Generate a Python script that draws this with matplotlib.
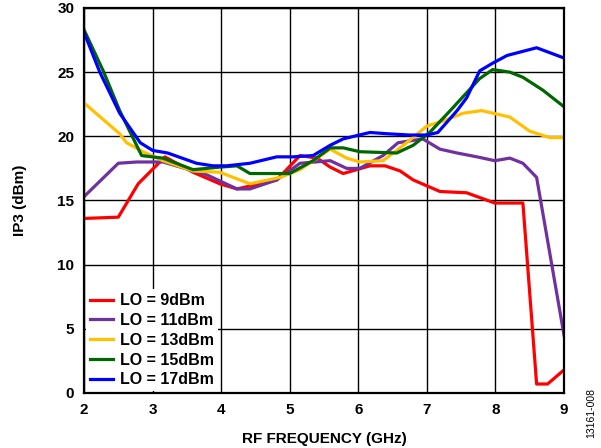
import matplotlib
matplotlib.use("Agg")
import matplotlib.pyplot as plt

plt.rcParams['font.family'] = ['Liberation Sans', 'DejaVu Sans']

# RF frequency (GHz) and IP3 (dBm), one array pair per LO level
freq_9 = [2.0, 2.5, 2.79, 3.18, 3.59, 3.98, 4.23, 4.81, 5.15, 5.4, 5.59, 5.78, 6.17, 6.39, 6.61, 6.8, 7.19, 7.58, 7.99, 8.4, 8.6, 8.76, 9.0]
ip3_9 = [13.6, 13.7, 16.3, 18.4, 17.2, 16.3, 15.9, 16.6, 18.5, 18.3, 17.6, 17.1, 17.7, 17.7, 17.3, 16.6, 15.7, 15.6, 14.8, 14.8, 0.7, 0.7, 1.8]

freq_11 = [2.0, 2.5, 2.77, 3.15, 3.79, 4.23, 4.42, 4.81, 5.15, 5.59, 5.83, 6.02, 6.36, 6.58, 6.94, 7.19, 7.44, 7.73, 7.99, 8.21, 8.4, 8.6, 9.0]
ip3_11 = [15.3, 17.9, 18.0, 18.0, 17.0, 15.9, 15.9, 16.6, 17.9, 18.1, 17.5, 17.5, 18.5, 19.5, 19.8, 19.0, 18.7, 18.4, 18.1, 18.3, 17.9, 16.8, 4.5]

freq_13 = [2.0, 2.52, 2.62, 2.86, 3.15, 3.59, 3.98, 4.42, 4.86, 5.15, 5.59, 5.83, 6.02, 6.36, 6.56, 6.75, 7.0, 7.24, 7.53, 7.8, 8.21, 8.5, 8.79, 9.0]
ip3_13 = [22.6, 20.2, 19.5, 18.8, 18.1, 17.3, 17.2, 16.3, 16.8, 17.4, 19.0, 18.3, 18.0, 18.1, 18.9, 19.7, 20.8, 21.2, 21.8, 22.0, 21.5, 20.4, 19.9, 19.9]

freq_15 = [2.0, 2.28, 2.52, 2.84, 3.15, 3.59, 3.98, 4.23, 4.42, 5.0, 5.34, 5.59, 5.78, 6.02, 6.56, 6.8, 7.04, 7.34, 7.77, 7.96, 8.21, 8.4, 8.69, 9.0]
ip3_15 = [28.3, 25.1, 22.0, 18.5, 18.3, 17.4, 17.6, 17.7, 17.1, 17.1, 18.1, 19.1, 19.1, 18.8, 18.7, 19.3, 20.3, 22.0, 24.5, 25.2, 25.0, 24.6, 23.6, 22.3]

freq_17 = [2.0, 2.23, 2.52, 2.82, 3.0, 3.22, 3.64, 3.88, 4.08, 4.42, 4.81, 5.05, 5.34, 5.59, 5.78, 6.17, 6.42, 6.75, 7.0, 7.16, 7.44, 7.58, 7.77, 7.96, 8.17, 8.6, 9.0]
ip3_17 = [28.1, 25.0, 21.8, 19.5, 18.9, 18.7, 17.9, 17.7, 17.7, 17.9, 18.4, 18.4, 18.5, 19.3, 19.8, 20.3, 20.2, 20.1, 20.1, 20.3, 22.0, 23.0, 25.1, 25.7, 26.3, 26.9, 26.1]

series = [
    (freq_9, ip3_9, "LO = 9dBm", "#ff0000"),
    (freq_11, ip3_11, "LO = 11dBm", "#7030a0"),
    (freq_13, ip3_13, "LO = 13dBm", "#ffc000"),
    (freq_15, ip3_15, "LO = 15dBm", "#006600"),
    (freq_17, ip3_17, "LO = 17dBm", "#0000ff"),
]

fig = plt.figure(figsize=(6.01, 4.48), dpi=100)
ax = fig.add_axes([0.1398, 0.1228, 0.7987, 0.8594])

for x, y, lab, col in series:
    ax.plot(x, y, color=col, lw=2.3, label=lab, solid_joinstyle='round')

ax.set_xlim(2, 9)
ax.set_ylim(0, 30)
ax.set_xticks(range(2, 10))
ax.set_yticks(range(0, 31, 5))
ax.grid(True, color='black', lw=1.0)
ax.set_axisbelow(True)
for s in ax.spines.values():
    s.set_linewidth(1.6)
ax.tick_params(length=0, pad=7, labelsize=11)
for t in ax.get_xticklabels() + ax.get_yticklabels():
    t.set_fontweight('bold')

ax.set_xlabel("RF FREQUENCY (GHz)", fontsize=11, fontweight='bold', labelpad=11)
ax.set_ylabel("IP3 (dBm)", fontsize=11, fontweight='bold', labelpad=22)

leg = ax.legend(loc='lower left', frameon=True, fancybox=False, framealpha=1,
                edgecolor='white', handlelength=1.45, handletextpad=0.45,
                labelspacing=0.3, borderpad=0.25, borderaxespad=0.1,
                prop={'size': 11.5, 'weight': 'bold'})
leg.get_frame().set_linewidth(0)

fig.text(0.983, 0.078, "13161-008", rotation=90, fontsize=7.5, ha='center', va='center')

fig.savefig("out.png", dpi=100)
